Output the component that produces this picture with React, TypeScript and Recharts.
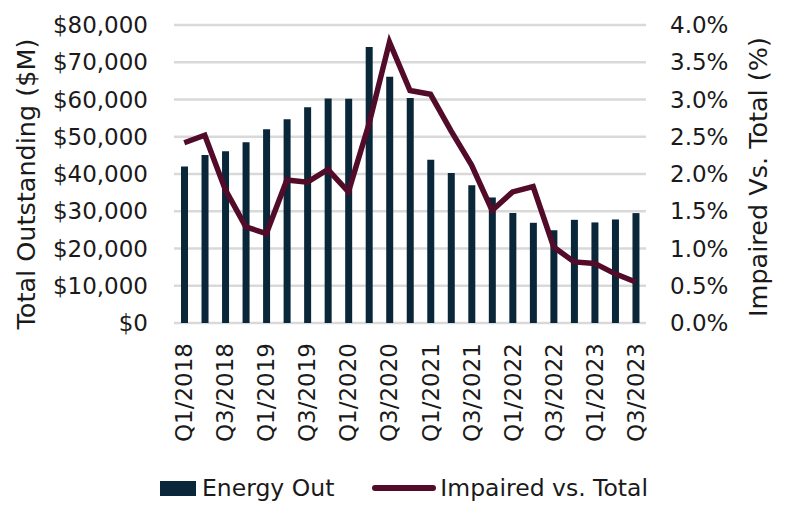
import { ComposedChart, Bar, Line, XAxis, YAxis, CartesianGrid, Legend } from 'recharts'

const quarters = [
  'Q1/2018', 'Q2/2018', 'Q3/2018', 'Q4/2018',
  'Q1/2019', 'Q2/2019', 'Q3/2019', 'Q4/2019',
  'Q1/2020', 'Q2/2020', 'Q3/2020', 'Q4/2020',
  'Q1/2021', 'Q2/2021', 'Q3/2021', 'Q4/2021',
  'Q1/2022', 'Q2/2022', 'Q3/2022', 'Q4/2022',
  'Q1/2023', 'Q2/2023', 'Q3/2023',
]

// total outstanding, $M
const energyOut = [
  42000, 45100, 46100, 48500, 52000, 54700, 57900, 60300, 60200, 74100, 66100, 60400,
  43800, 40300, 37000, 33700, 29500, 26900, 24900, 27700, 27000, 27800, 29500,
]

// impaired vs. total, %
const impairedPct = [
  2.42, 2.52, 1.79, 1.29, 1.2, 1.92, 1.89, 2.06, 1.76, 2.67, 3.77, 3.12,
  3.07, 2.58, 2.12, 1.51, 1.76, 1.83, 1.02, 0.82, 0.8, 0.66, 0.55,
]

const leftTicks = [0, 10000, 20000, 30000, 40000, 50000, 60000, 70000, 80000]
const rightTicks = [0, 0.5, 1, 1.5, 2, 2.5, 3, 3.5, 4]

const data = quarters.map((q, i) => ({
  quarter: q,
  energy: energyOut[i],
  impaired: impairedPct[i],
}))

const FONT = '"DejaVu Sans", sans-serif'
const TEXT = '#1a1a1a'
const BAR = '#0a2639'
const LINE = '#520b28'

const QuarterTick = (props: any) => {
  const { x, y, payload } = props
  return (
    <g transform={`translate(${x},${y})`}>
      <text
        transform="rotate(-90)"
        textAnchor="end"
        dominantBaseline="central"
        fontFamily={FONT}
        fontSize={23}
        fill={TEXT}
      >
        {payload.value}
      </text>
    </g>
  )
}

// rotated axis title at a fixed centre point
const sideTitle = (text: string, cx: number, cy: number) => () => (
  <text
    x={cx}
    y={cy}
    transform={`rotate(-90, ${cx}, ${cy})`}
    textAnchor="middle"
    dominantBaseline="central"
    fontFamily={FONT}
    fontSize={25.5}
    fill={TEXT}
  >
    {text}
  </text>
)

const LegendBox = () => (
  <div
    style={{
      height: 28,
      display: 'flex',
      alignItems: 'center',
      fontFamily: FONT,
      fontSize: 23.5,
      color: TEXT,
      paddingLeft: 160,
      marginTop: -3,
    }}
  >
    <span style={{ width: 36, height: 15, background: BAR, display: 'inline-block', marginRight: 6 }} />
    <span>Energy Out</span>
    <span
      style={{
        width: 64,
        height: 6,
        borderRadius: 3,
        background: LINE,
        display: 'inline-block',
        marginLeft: 38,
        marginRight: 4,
      }}
    />
    <span>Impaired vs. Total</span>
  </div>
)

export default function App() {
  return (
    <div style={{ margin: -8, width: 791, height: 514 }}>
      <ComposedChart
        width={791}
        height={514}
        data={data}
        margin={{ top: 25, right: 0, bottom: 12, left: 0 }}
      >
        <CartesianGrid yAxisId="left" vertical={false} stroke="#d9d9d9" strokeWidth={2.5} />
        <XAxis
          dataKey="quarter"
          interval={1}
          height={154}
          axisLine={false}
          tickLine={false}
          tickSize={0}
          tickMargin={20}
          tick={<QuarterTick />}
        />
        <YAxis
          yAxisId="left"
          width={174}
          domain={[0, 80000]}
          ticks={leftTicks}
          axisLine={false}
          tickLine={false}
          tickSize={0}
          tickMargin={26}
          tickFormatter={(v: number) => '$' + v.toLocaleString('en-US')}
          tick={{ fontFamily: FONT, fontSize: 23, fill: TEXT }}
          label={{ content: sideTitle('Total Outstanding ($M)', 26, 184) }}
        />
        <YAxis
          yAxisId="right"
          orientation="right"
          width={145}
          domain={[0, 4]}
          ticks={rightTicks}
          axisLine={false}
          tickLine={false}
          tickSize={0}
          tickMargin={24}
          tickFormatter={(v: number) => v.toFixed(1) + '%'}
          tick={{ fontFamily: FONT, fontSize: 23, fill: TEXT }}
          label={{ content: sideTitle('Impaired Vs. Total (%)', 758, 177) }}
        />
        <Legend verticalAlign="bottom" content={<LegendBox />} />
        <Bar yAxisId="left" dataKey="energy" name="Energy Out" fill={BAR} barSize={7} isAnimationActive={false} />
        <Line
          yAxisId="right"
          dataKey="impaired"
          name="Impaired vs. Total"
          stroke={LINE}
          strokeWidth={5.5}
          dot={false}
          type="linear"
          isAnimationActive={false}
        />
      </ComposedChart>
    </div>
  )
}
